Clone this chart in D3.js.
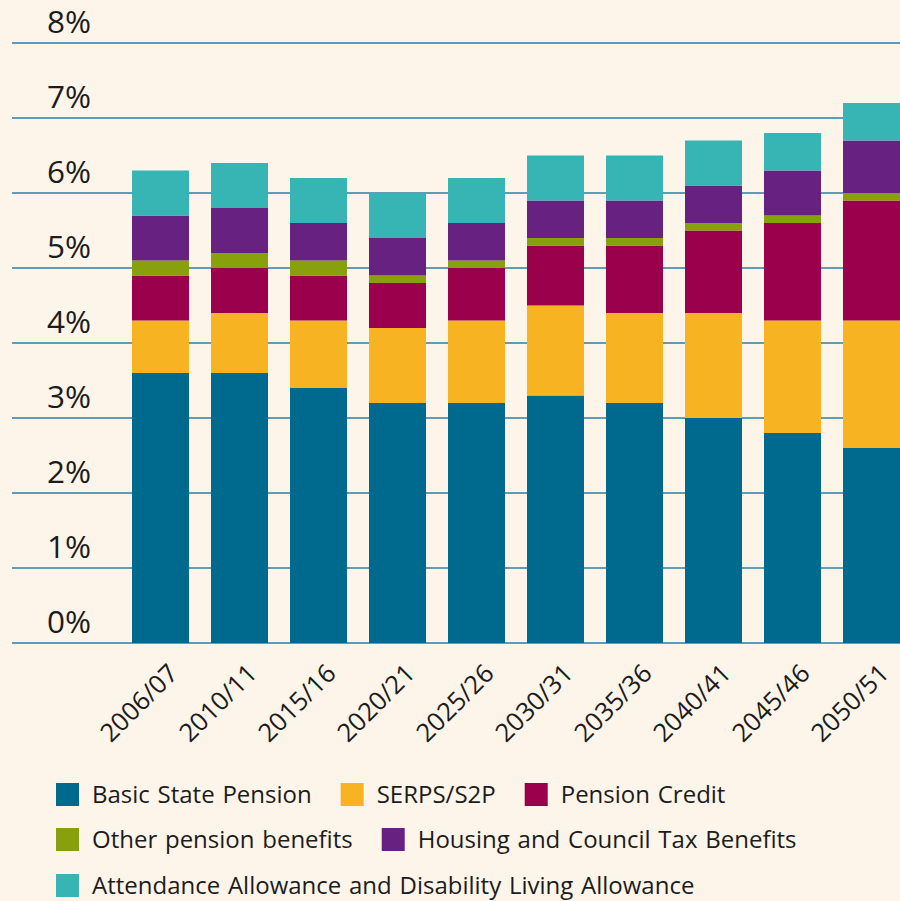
<!DOCTYPE html>
<html>
<head>
<meta charset="utf-8">
<script src="https://cdn.jsdelivr.net/npm/d3@7"></script>
<style>
  html, body { margin: 0; padding: 0; background: #fdf5ea; }
  svg { display: block; }
  text { font-family: "Open Sans", "Noto Sans", sans-serif; fill: #1c1c1c; }
</style>
</head>
<body>
<svg id="chart" width="900" height="901"></svg>
<script>
// Pensioner benefit spending as a share of GDP, by component
const years = ["2006/07", "2010/11", "2015/16", "2020/21", "2025/26",
               "2030/31", "2035/36", "2040/41", "2045/46", "2050/51"];

const seriesNames = ["Basic State Pension", "SERPS/S2P", "Pension Credit",
                     "Other pension benefits", "Housing and Council Tax Benefits",
                     "Attendance Allowance and Disability Living Allowance"];

const seriesColors = ["#006a8e", "#f8b323", "#9b004c", "#88a00c", "#672180", "#37b5b4"];

const basicStatePension = [3.6, 3.6, 3.4, 3.2, 3.2, 3.3, 3.2, 3.0, 2.8, 2.6];
const serps             = [0.7, 0.8, 0.9, 1.0, 1.1, 1.2, 1.2, 1.4, 1.5, 1.7];
const pensionCredit     = [0.6, 0.6, 0.6, 0.6, 0.7, 0.8, 0.9, 1.1, 1.3, 1.6];
const otherPension      = [0.2, 0.2, 0.2, 0.1, 0.1, 0.1, 0.1, 0.1, 0.1, 0.1];
const housingCouncilTax = [0.6, 0.6, 0.5, 0.5, 0.5, 0.5, 0.5, 0.5, 0.6, 0.7];
const attendanceDLA     = [0.6, 0.6, 0.6, 0.6, 0.6, 0.6, 0.6, 0.6, 0.5, 0.5];

const yTicks = [0, 1, 2, 3, 4, 5, 6, 7, 8];

const seriesValues = [basicStatePension, serps, pensionCredit,
                      otherPension, housingCouncilTax, attendanceDLA];

const rows = years.map((y, i) => {
  const r = { year: y };
  seriesNames.forEach((n, k) => { r[n] = seriesValues[k][i]; });
  return r;
});

const svg = d3.select("#chart");

const x = d3.scaleBand()
  .domain(years)
  .range([132, 900])
  .paddingInner(22 / 79)
  .paddingOuter(0);

const y = d3.scaleLinear().domain([0, 8]).range([643, 43]);

const color = d3.scaleOrdinal().domain(seriesNames).range(seriesColors);

// gridlines
svg.append("g")
  .selectAll("line")
  .data(yTicks)
  .join("line")
  .attr("x1", 12).attr("x2", 900)
  .attr("y1", d => y(d)).attr("y2", d => y(d))
  .attr("stroke", "#2a7ea3")
  .attr("stroke-width", 1.3);

// y labels sit above their gridline
svg.append("g")
  .selectAll("text")
  .data(yTicks)
  .join("text")
  .attr("x", 47)
  .attr("y", d => y(d) - 10)
  .attr("font-size", 31.5)
  .text(d => d + "%");

// stacked bars
const stack = d3.stack().keys(seriesNames);
const layers = stack(rows);

svg.append("g")
  .selectAll("g")
  .data(layers)
  .join("g")
  .attr("fill", d => color(d.key))
  .selectAll("rect")
  .data(d => d)
  .join("rect")
  .attr("x", d => x(d.data.year))
  .attr("width", x.bandwidth())
  .attr("y", d => y(d[1]))
  .attr("height", d => y(d[0]) - y(d[1]));

// category labels, rotated
svg.append("g")
  .selectAll("text")
  .data(years)
  .join("text")
  .attr("font-size", 25.5)
  .attr("text-anchor", "end")
  .attr("transform", d => {
    const cx = x(d) + x.bandwidth() / 2 + 19;
    return `translate(${cx},675) rotate(-45)`;
  })
  .text(d => d);

// legend
const legendRows = [[0, 1, 2], [3, 4], [5]];
const legendTop = [783, 828, 874];
const legend = svg.append("g");
legendRows.forEach((row, ri) => {
  let lx = 56;
  row.forEach(k => {
    const g = legend.append("g").attr("transform", `translate(${lx},${legendTop[ri]})`);
    g.append("rect").attr("width", 23).attr("height", 23).attr("fill", seriesColors[k]);
    const t = g.append("text")
      .attr("x", 36).attr("y", 20)
      .attr("font-size", 24)
      .attr("word-spacing", 1.5)
      .text(seriesNames[k]);
    lx += 36 + t.node().getComputedTextLength() + 29;
  });
});
</script>
</body>
</html>
